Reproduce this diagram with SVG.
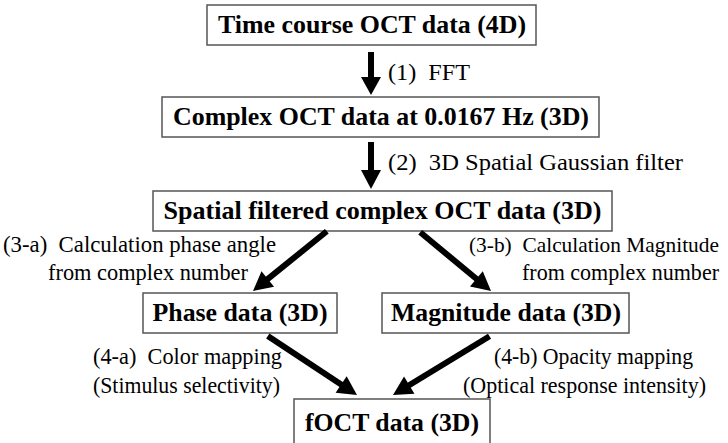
<svg xmlns="http://www.w3.org/2000/svg" width="728" height="443" viewBox="0 0 728 443">
  <style>
    .box { fill: #ffffff; stroke: #555555; stroke-width: 1.5; }
    .title { font-family: "Liberation Serif", "Times New Roman", serif; font-weight: bold; font-size: 25px; fill: #000000; text-anchor: middle; }
    .lbl { font-family: "Liberation Serif", "Times New Roman", serif; font-size: 23px; fill: #000000; }
    .lbl.tight { font-size: 21.5px; }
    .arr { stroke: #000000; stroke-width: 6; fill: none; }
    .head { fill: #000000; }
  </style>
  <rect width="728" height="443" fill="#ffffff"/>

  <g id="time-course">
    <rect class="box" x="207" y="5" width="329" height="40"/>
    <text class="title" x="372" y="33" textLength="308" lengthAdjust="spacingAndGlyphs">Time course OCT data (4D)</text>
  </g>
  <g id="complex">
    <rect class="box" x="162" y="97" width="437" height="40"/>
    <text class="title" x="381" y="125" textLength="416" lengthAdjust="spacingAndGlyphs">Complex OCT data at 0.0167 Hz (3D)</text>
  </g>
  <g id="spatial-filtered">
    <rect class="box" x="153" y="191" width="459" height="40"/>
    <text class="title" x="382.5" y="219" textLength="438" lengthAdjust="spacingAndGlyphs">Spatial filtered complex OCT data (3D)</text>
  </g>
  <g id="phase">
    <rect class="box" x="143" y="293" width="194" height="40"/>
    <text class="title" x="240" y="321" textLength="175" lengthAdjust="spacingAndGlyphs">Phase data (3D)</text>
  </g>
  <g id="magnitude">
    <rect class="box" x="382" y="293" width="247" height="40"/>
    <text class="title" x="506" y="321" textLength="230" lengthAdjust="spacingAndGlyphs">Magnitude data (3D)</text>
  </g>
  <g id="foct">
    <rect class="box" x="294" y="399" width="196" height="46"/>
    <text class="title" x="392" y="431" textLength="174" lengthAdjust="spacingAndGlyphs">fOCT data (3D)</text>
  </g>

  <g id="connectors">
    <!-- (1) FFT -->
    <line class="arr" x1="371" y1="52" x2="371" y2="80"/>
    <polygon class="head" points="361,77 381,77 371,95"/>
    <!-- (2) Gaussian filter -->
    <line class="arr" x1="371" y1="142" x2="371" y2="172"/>
    <polygon class="head" points="361,170 381,170 371,189"/>
    <!-- (3-a) -->
    <g transform="translate(253,291) rotate(-39)">
      <line class="arr" x1="14" y1="0" x2="95" y2="0"/>
      <polygon class="head" points="0,0 19,-10 19,10"/>
    </g>
    <!-- (3-b) -->
    <g transform="translate(491,291) rotate(39.7)">
      <line class="arr" x1="-14" y1="0" x2="-92" y2="0"/>
      <polygon class="head" points="0,0 -19,-10 -19,10"/>
    </g>
    <!-- (4-a) -->
    <g transform="translate(357,395) rotate(33.5)">
      <line class="arr" x1="-14" y1="0" x2="-107" y2="0"/>
      <polygon class="head" points="0,0 -19,-10 -19,10"/>
    </g>
    <!-- (4-b) -->
    <g transform="translate(393,395) rotate(-31.3)">
      <line class="arr" x1="14" y1="0" x2="113" y2="0"/>
      <polygon class="head" points="0,0 19,-10 19,10"/>
    </g>
  </g>

  <g id="labels">
    <text class="lbl" x="388" y="80" textLength="82" lengthAdjust="spacingAndGlyphs" xml:space="preserve">(1)  FFT</text>
    <text class="lbl" x="388" y="170" textLength="295" lengthAdjust="spacingAndGlyphs" xml:space="preserve">(2)  3D Spatial Gaussian filter</text>
    <text class="lbl" x="3" y="252" textLength="273" lengthAdjust="spacingAndGlyphs" xml:space="preserve">(3-a)  Calculation phase angle</text>
    <text class="lbl" x="48" y="280" textLength="200" lengthAdjust="spacingAndGlyphs">from complex number</text>
    <text class="lbl tight" x="469" y="252" textLength="250" lengthAdjust="spacingAndGlyphs" xml:space="preserve">(3-b)  Calculation Magnitude</text>
    <text class="lbl" x="522" y="280" textLength="197" lengthAdjust="spacingAndGlyphs">from complex number</text>
    <text class="lbl" x="93" y="364" textLength="189" lengthAdjust="spacingAndGlyphs" xml:space="preserve">(4-a)  Color mapping</text>
    <text class="lbl" x="93" y="393" textLength="187" lengthAdjust="spacingAndGlyphs">(Stimulus selectivity)</text>
    <text class="lbl" x="494" y="364" textLength="199" lengthAdjust="spacingAndGlyphs">(4-b) Opacity mapping</text>
    <text class="lbl" x="463" y="393" textLength="243" lengthAdjust="spacingAndGlyphs">(Optical response intensity)</text>
  </g>
</svg>
